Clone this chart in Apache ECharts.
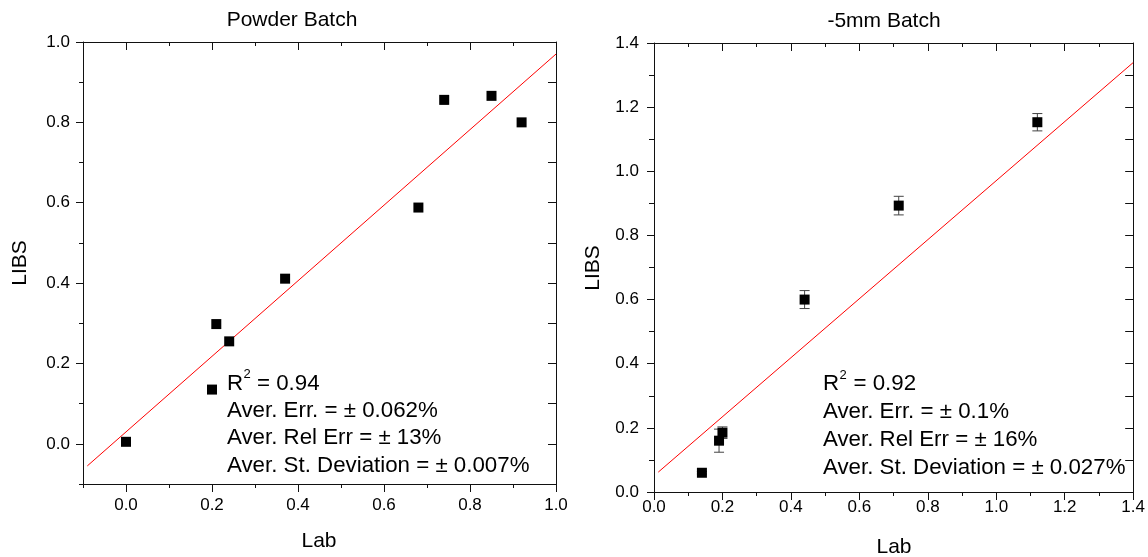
<!DOCTYPE html>
<html><head><meta charset="utf-8">
<script src="https://cdn.jsdelivr.net/npm/echarts@6/dist/echarts.min.js"></script>
<style>html,body{margin:0;padding:0;background:#fff}#c{width:1148px;height:557px}</style>
</head><body><div id="c"></div>
<script>
const FONT = '"Liberation Sans", Arial, sans-serif';

// ---- Left panel: Powder Batch ----
const powderTitle = 'Powder Batch';
const powderLab  = [0.00, 0.21, 0.24, 0.20, 0.37, 0.68, 0.74, 0.85, 0.92];
const powderLibs = [0.005, 0.298, 0.255, 0.135, 0.411, 0.588, 0.856, 0.866, 0.800];
const powderErr  = [0.006, 0.004, 0.004, 0.003, 0.003, 0.003, 0.010, 0.004, 0.003];
const powderFitX = [-0.09, 1.00];
const powderFitY = [-0.055, 0.97];
const powderStats = ['= 0.94', 'Aver. Err. = \u00b1 0.062%', 'Aver. Rel Err = \u00b1 13%', 'Aver. St. Deviation = \u00b1 0.007%'];
const powderMajorTicks = [0.0, 0.2, 0.4, 0.6, 0.8, 1.0];
const powderMinorTicks = [-0.1, 0.1, 0.3, 0.5, 0.7, 0.9];

// ---- Right panel: -5mm Batch ----
const mmTitle = '-5mm Batch';
const mmLab  = [0.14, 0.19, 0.20, 0.44, 0.715, 1.12];
const mmLibs = [0.060, 0.160, 0.185, 0.600, 0.893, 1.153];
const mmErr  = [0.004, 0.036, 0.018, 0.028, 0.029, 0.027];
const mmFitX = [0.0125, 1.40];
const mmFitY = [0.062, 1.339];
const mmStats = ['= 0.92', 'Aver. Err. = \u00b1 0.1%', 'Aver. Rel Err = \u00b1 16%', 'Aver. St. Deviation = \u00b1 0.027%'];

const xName = 'Lab', yName = 'LIBS';

const LINE = {color: '#111', width: 1};
const NOLINE = {show: false, onZero: false};
const fmt = v => Number(v).toFixed(1);

function axis(o) {
  return Object.assign({
    type: 'value',
    axisLine: {show: true, onZero: false, lineStyle: LINE},
    splitLine: {show: false},
    axisLabel: {show: false},
    axisTick: {show: false}
  }, o);
}

const xAxes = [
  axis({gridIndex: 0, position: 'bottom', min: -0.1, max: 1.0,
    axisTick: {show: true, customValues: powderMajorTicks, length: 8, lineStyle: LINE},
    axisLabel: {show: true, customValues: powderMajorTicks, formatter: fmt, fontSize: 17, fontFamily: FONT, color: '#000', margin: 13}}),
  axis({gridIndex: 0, position: 'bottom', min: -0.1, max: 1.0, axisLine: NOLINE,
    axisTick: {show: true, customValues: powderMinorTicks, length: 4, lineStyle: LINE}}),
  axis({gridIndex: 0, position: 'top', min: -0.1, max: 1.0,
    axisTick: {show: true, inside: true, customValues: powderMajorTicks, length: 8, lineStyle: LINE}}),
  axis({gridIndex: 0, position: 'top', min: -0.1, max: 1.0, axisLine: NOLINE,
    axisTick: {show: true, inside: true, customValues: powderMinorTicks, length: 4, lineStyle: LINE}}),
  axis({gridIndex: 1, position: 'bottom', min: 0, max: 1.4, interval: 0.2,
    axisTick: {show: true, length: 8, lineStyle: LINE},
    minorTick: {show: true, splitNumber: 2, length: 4, lineStyle: LINE},
    axisLabel: {show: true, formatter: fmt, fontSize: 17, fontFamily: FONT, color: '#000', margin: 7}}),
  axis({gridIndex: 1, position: 'top', min: 0, max: 1.4, interval: 0.2,
    axisTick: {show: true, inside: true, length: 8, lineStyle: LINE},
    minorTick: {show: true, splitNumber: 2, length: 4, lineStyle: LINE}})
];
const yAxes = [
  axis({gridIndex: 0, position: 'left', min: -0.1, max: 1.0,
    axisTick: {show: true, customValues: powderMajorTicks, length: 7, lineStyle: LINE},
    axisLabel: {show: true, customValues: powderMajorTicks, formatter: fmt, fontSize: 17, fontFamily: FONT, color: '#000', margin: 13}}),
  axis({gridIndex: 0, position: 'left', min: -0.1, max: 1.0, axisLine: NOLINE,
    axisTick: {show: true, customValues: powderMinorTicks, length: 4, lineStyle: LINE}}),
  axis({gridIndex: 0, position: 'right', min: -0.1, max: 1.0,
    axisTick: {show: true, inside: true, customValues: powderMajorTicks, length: 8, lineStyle: LINE}}),
  axis({gridIndex: 0, position: 'right', min: -0.1, max: 1.0, axisLine: NOLINE,
    axisTick: {show: true, inside: true, customValues: powderMinorTicks, length: 8, lineStyle: LINE}}),
  axis({gridIndex: 1, position: 'left', min: 0, max: 1.4, interval: 0.2,
    axisTick: {show: true, length: 7, lineStyle: LINE},
    minorTick: {show: true, splitNumber: 2, length: 5, lineStyle: LINE},
    axisLabel: {show: true, formatter: fmt, fontSize: 17, fontFamily: FONT, color: '#000', margin: 15}}),
  axis({gridIndex: 1, position: 'right', min: 0, max: 1.4, interval: 0.2,
    axisTick: {show: true, inside: true, length: 8, lineStyle: LINE},
    minorTick: {show: true, splitNumber: 2, length: 8, lineStyle: LINE}})
];

function makeErrorRender(hw) {
  return function (params, api) {
    const x = api.value(0), y = api.value(1), e = api.value(2);
    const t = api.coord([x, y + e]), b = api.coord([x, y - e]);
    const st = {stroke: '#444', lineWidth: 1};
    return {type: 'group', children: [
      {type: 'line', shape: {x1: t[0], y1: t[1], x2: b[0], y2: b[1]}, style: st},
      {type: 'line', shape: {x1: t[0] - hw, y1: t[1], x2: t[0] + hw, y2: t[1]}, style: st},
      {type: 'line', shape: {x1: b[0] - hw, y1: b[1], x2: b[0] + hw, y2: b[1]}, style: st}
    ]};
  };
}

const powderPts = powderLab.map((x, i) => [x, powderLibs[i]]);
const powderErrData = powderLab.map((x, i) => [x, powderLibs[i], powderErr[i]]);
const powderFit = powderFitX.map((x, i) => [x, powderFitY[i]]);
const mmPts = mmLab.map((x, i) => [x, mmLibs[i]]);
const mmErrData = mmLab.map((x, i) => [x, mmLibs[i], mmErr[i]]);
const mmFit = mmFitX.map((x, i) => [x, mmFitY[i]]);

function txt(x, y, text, size, extra) {
  return Object.assign({type: 'text', x: x, y: y, silent: true,
    style: {text: text, fontSize: size, fontFamily: FONT, fill: '#000', align: 'left', verticalAlign: 'middle'}}, extra || {});
}
function statBlock(x, xEq, ys, stats) {
  const g = [
    txt(x, ys[0], 'R', 22.3),
    txt(x + 16.5, ys[0] - 9, '2', 13),
    txt(xEq, ys[0], stats[0], 22.3)
  ];
  for (let i = 1; i < stats.length; i++) g.push(txt(x, ys[i], stats[i], 22.3));
  return g;
}
function center(el) { el.style.align = 'center'; return el; }

const graphics = [].concat(
  statBlock(227, 257, [383.5, 410.5, 438, 465.5], powderStats),
  statBlock(823, 853.5, [384, 412, 440, 468], mmStats),
  [
    center(txt(292, 20, powderTitle, 21)),
    center(txt(884, 21, mmTitle, 21)),
    center(txt(319, 541, xName, 21)),
    center(txt(894, 547, xName, 21)),
    center(txt(20, 263, yName, 21, {rotation: Math.PI / 2})),
    center(txt(593, 268, yName, 21, {rotation: Math.PI / 2}))
  ]
);

const chart = echarts.init(document.getElementById('c'), null, {renderer: 'canvas'});
chart.setOption({
  animation: false,
  backgroundColor: '#fff',
  grid: [
    {left: 83, top: 42, width: 473, height: 442},
    {left: 654, top: 43, width: 480, height: 449}
  ],
  xAxis: xAxes,
  yAxis: yAxes,
  series: [
    {type: 'line', xAxisIndex: 0, yAxisIndex: 0, data: powderFit, symbol: 'none',
      lineStyle: {color: '#ff0000', width: 1}, z: 2},
    {type: 'custom', xAxisIndex: 0, yAxisIndex: 0, data: powderErrData, renderItem: makeErrorRender(4),
      encode: {x: 0, y: 1}, z: 3},
    {type: 'scatter', xAxisIndex: 0, yAxisIndex: 0, data: powderPts, symbol: 'rect', symbolSize: 10,
      itemStyle: {color: '#000', opacity: 1}, z: 4},
    {type: 'line', xAxisIndex: 4, yAxisIndex: 4, data: mmFit, symbol: 'none',
      lineStyle: {color: '#ff0000', width: 1}, z: 2},
    {type: 'custom', xAxisIndex: 4, yAxisIndex: 4, data: mmErrData, renderItem: makeErrorRender(5),
      encode: {x: 0, y: 1}, z: 3},
    {type: 'scatter', xAxisIndex: 4, yAxisIndex: 4, data: mmPts, symbol: 'rect', symbolSize: 10,
      itemStyle: {color: '#000', opacity: 1}, z: 4}
  ],
  graphic: graphics
});
</script>
</body></html>
